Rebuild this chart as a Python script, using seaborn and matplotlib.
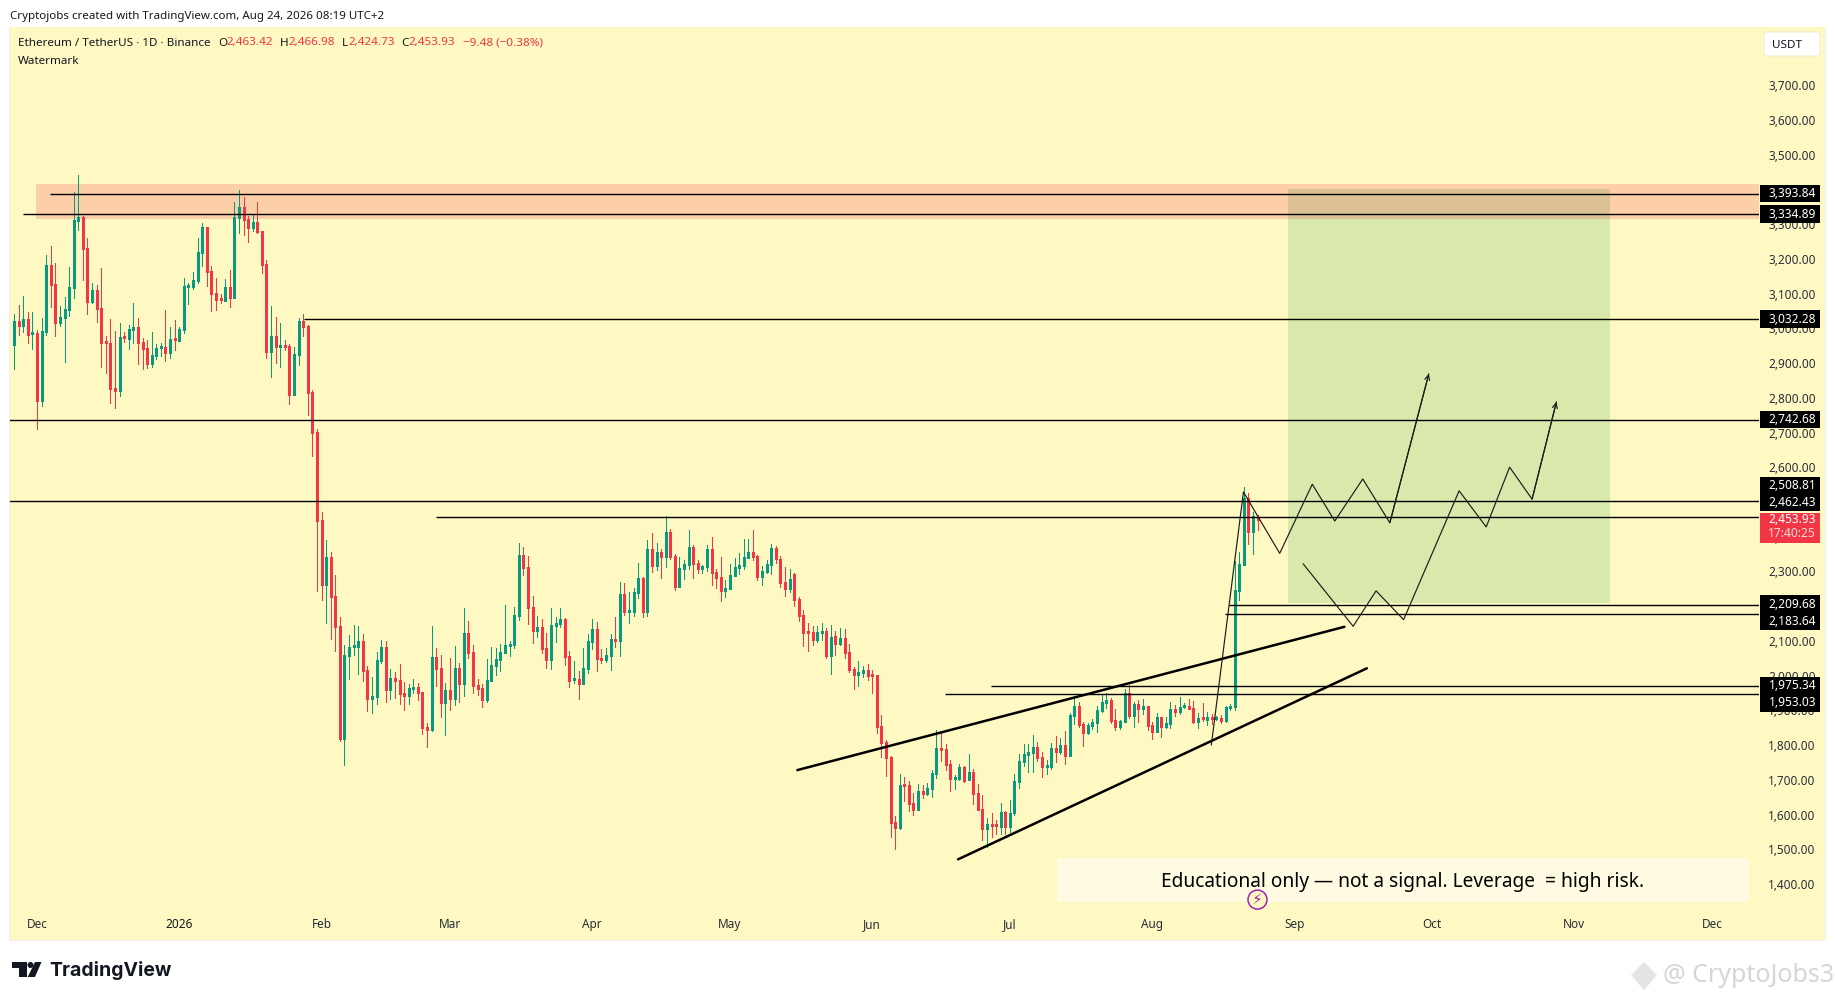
### ETH/USDT daily candles with hand drawn levels and projected paths
import numpy as np
import pandas as pd
import seaborn as sns
import matplotlib.pyplot as plt
from matplotlib.patches import Rectangle, Polygon, Circle, FancyBboxPatch
from matplotlib.transforms import ScaledTranslation

W, H = 1835, 1000
BG = '#FEF8C3'
UP = '#089981'
DOWN = '#F23645'

first_day = -5   # days counted from 1 Dec 2025

open_ = [2958,3027,3012,3032,2989,2992,2796,2995,3188,3133,
    3021,3035,3058,3122,3315,3326,3237,3081,3116,3064,
    2966,2963,2834,2825,2981,2975,3001,3009,2966,2949,
    2903,2926,2949,2952,2935,2975,2969,3001,3125,3125,
    3142,3223,3297,3171,3107,3090,3084,3125,3093,3323,
    3355,3320,3295,3312,3286,3191,2937,2983,2952,2958,
    2955,2814,2929,3027,3012,2822,2707,2454,2267,2347,
    2235,2149,1823,2062,2088,2088,2105,2022,1938,1944,
    2048,2088,1964,1999,1993,1956,1947,1967,1973,1958,
    1858,1849,2059,2028,1927,1964,1938,2028,1981,2128,
    2074,1979,1970,1935,1990,2033,2051,2071,2091,2094,
    2177,2353,2318,2203,2134,2146,2085,2051,2149,2154,
    2169,2062,1993,1996,1982,2025,2103,2140,2056,2051,
    2062,2111,2105,2241,2189,2189,2244,2287,2189,2370,
    2321,2362,2347,2419,2350,2261,2313,2324,2376,2330,
    2313,2319,2370,2304,2290,2249,2255,2293,2316,2321,
    2344,2362,2350,2290,2304,2324,2373,2341,2276,2255,
    2298,2226,2180,2131,2131,2108,2129,2134,2062,2120,
    2097,2114,2074,2025,2008,2013,2022,2008,2008,1861,
    1815,1771,1584,1567,1691,1691,1639,1619,1673,1665,
    1679,1722,1797,1794,1751,1708,1708,1743,1705,1728,
    1668,1622,1564,1578,1576,1570,1613,1570,1609,1700,
    1757,1777,1783,1800,1771,1743,1742,1797,1786,1806,
    1774,1889,1918,1866,1840,1861,1869,1904,1927,1935,
    1878,1858,1872,1956,1889,1924,1909,1918,1863,1843,
    1886,1858,1866,1909,1901,1915,1918,1912,1872,1884,
    1878,1886,1881,1884,1875,1912,1915,2249,2324,2517,
    2419,2463.42]

high = [3047,3073,3099,3053,3053,3001,3035,3217,3243,3194,
    3070,3096,3182,3398,3447,3329,3266,3136,3130,3179,
    2983,3032,2998,3021,2995,3015,3079,3035,2978,2972,
    2995,2960,2963,3058,3009,3030,3009,3151,3136,3168,
    3266,3309,3297,3185,3151,3104,3148,3174,3369,3404,
    3384,3329,3332,3369,3286,3202,3070,3038,3021,2972,
    2960,2952,3035,3047,3015,2828,2716,2477,2396,2362,
    2295,2174,2094,2123,2151,2149,2125,2033,2002,2074,
    2108,2105,2025,2016,2039,1987,1981,1996,1984,1958,
    1869,2149,2085,2065,1984,2056,2091,2042,2200,2163,
    2094,1996,1981,2053,2088,2085,2097,2209,2105,2203,
    2388,2376,2350,2235,2177,2169,2128,2200,2175,2200,
    2172,2077,2048,2019,2085,2126,2169,2160,2082,2085,
    2126,2175,2275,2272,2247,2258,2330,2290,2396,2416,
    2388,2370,2465,2428,2356,2347,2339,2425,2382,2339,
    2324,2382,2405,2313,2347,2281,2327,2344,2359,2399,
    2399,2425,2353,2321,2339,2385,2379,2350,2319,2312,
    2300,2231,2196,2157,2149,2149,2157,2143,2152,2134,
    2143,2140,2097,2031,2048,2034,2039,2022,2008,1892,
    1820,1774,1602,1722,1714,1702,1668,1694,1691,1697,
    1734,1849,1841,1809,1763,1720,1751,1745,1780,1737,
    1694,1662,1596,1610,1590,1639,1616,1648,1724,1780,
    1809,1809,1835,1815,1786,1763,1813,1832,1826,1846,
    1897,1947,1930,1872,1869,1881,1918,1953,1956,1941,
    1909,1878,1967,1979,1930,1935,1938,1918,1872,1898,
    1886,1886,1930,1921,1944,1927,1938,1932,1898,1927,
    1901,1895,1889,1892,1918,1924,2336,2362,2549,2532,
    2477,2466.98]

low = [2888,2986,2995,2963,2946,2716,2782,2986,3067,2983,
    3012,2909,3041,3093,3289,3145,3047,3079,3024,2894,
    2877,2791,2776,2811,2966,2946,2963,2903,2888,2891,
    2894,2917,2926,2912,2920,2943,2969,2992,3076,3119,
    3136,3185,3127,3056,3058,3079,3084,3067,3093,3280,
    3274,3254,3286,3280,3165,2920,2865,2906,2894,2943,
    2788,2814,2900,2983,2756,2638,2249,2223,2157,2111,
    2077,1817,1748,1996,2065,2010,1990,1904,1898,1924,
    2042,1930,1938,1941,1924,1907,1924,1956,1935,1837,
    1800,1846,1976,1886,1835,1907,1921,1930,1947,2056,
    1956,1950,1915,1930,1990,2007,2019,2071,2062,2085,
    2166,2295,2154,2100,2117,2071,2028,2025,2103,2146,
    2036,1973,1984,1938,1982,2013,2082,2019,2042,2045,
    2022,2088,2062,2180,2157,2177,2229,2175,2177,2304,
    2310,2287,2319,2342,2252,2261,2284,2313,2287,2301,
    2301,2307,2267,2258,2221,2232,2255,2293,2298,2313,
    2344,2339,2281,2267,2301,2298,2329,2262,2236,2247,
    2206,2163,2091,2077,2094,2103,2108,2057,2010,2065,
    2094,2057,2016,1967,1976,2002,1993,1956,1841,1771,
    1717,1541,1506,1564,1645,1616,1604,1619,1653,1662,
    1656,1711,1760,1734,1673,1679,1705,1700,1705,1636,
    1619,1532,1512,1541,1550,1550,1550,1555,1604,1681,
    1745,1728,1728,1760,1714,1722,1737,1757,1780,1751,
    1774,1866,1858,1803,1837,1852,1843,1901,1912,1869,
    1849,1852,1872,1884,1858,1872,1895,1849,1823,1843,
    1829,1855,1855,1889,1895,1912,1909,1869,1855,1875,
    1863,1866,1878,1869,1872,1907,1907,2223,2324,2385,
    2356,2424.73]

close = [3027,3012,3032,2986,2992,2796,2998,3188,3130,3021,
    3038,3061,3125,3318,3326,3234,3081,3116,3061,2963,
    2963,2831,2825,2981,2978,3004,3009,2963,2946,2903,
    2929,2949,2952,2935,2975,2972,3004,3127,3127,3145,
    3225,3297,3168,3104,3087,3087,3125,3093,3326,3355,
    3318,3295,3312,3283,3188,2937,2983,2952,2958,2952,
    2814,2932,3027,3009,2819,2704,2451,2267,2347,2232,
    2146,1823,2065,2088,2091,2105,2019,1938,1947,2051,
    2088,1964,1999,1990,1953,1947,1970,1973,1956,1855,
    1849,2059,2025,1927,1964,1938,2028,1981,2128,2071,
    1976,1967,1935,1993,2036,2053,2074,2094,2097,2180,
    2353,2316,2200,2134,2146,2082,2051,2151,2157,2169,
    2059,1990,1996,1982,2028,2105,2140,2054,2051,2065,
    2111,2105,2241,2189,2192,2247,2287,2189,2370,2321,
    2362,2347,2419,2347,2261,2316,2327,2376,2327,2313,
    2321,2370,2301,2287,2249,2258,2295,2319,2324,2347,
    2362,2347,2290,2307,2327,2373,2341,2273,2255,2284,
    2225,2177,2128,2128,2108,2131,2134,2062,2117,2097,
    2114,2071,2022,2008,2016,2022,2005,2005,1858,1812,
    1769,1581,1567,1691,1688,1636,1619,1673,1665,1682,
    1725,1797,1792,1748,1708,1711,1743,1703,1728,1665,
    1619,1564,1578,1573,1573,1613,1570,1610,1702,1760,
    1780,1786,1800,1768,1742,1745,1797,1786,1806,1774,
    1892,1918,1863,1840,1863,1872,1907,1930,1935,1875,
    1858,1875,1956,1889,1924,1909,1918,1861,1843,1886,
    1858,1869,1909,1901,1915,1918,1909,1872,1884,1881,
    1886,1881,1884,1875,1915,1918,2252,2327,2517,2419,
    2465,2453.93]

# horizontal levels and the day each one starts on
level_prices = [3393.84, 3334.89, 3032.28, 2742.68, 2508.81, 2462.43, 2209.68, 2183.64, 1975.34, 1953.03]
level_starts = [2.8, -3.1, 58.2, -6, -6, 86.9, 259.8, 258.8, 207.9, 197.8]
# where the price tags sit once the scale has stacked them
tag_prices = [3393.84, 3334.89, 3032.28, 2742.68, 2553.6, 2504, 2212, 2161, 1977, 1927.4]

zone_days = [-0.2, 375.4]
zone_prices = [3320, 3421]
box_days = [272.6, 342.8]
box_prices = [2215, 3407]

wedge_top_days = [165.7, 284.9]
wedge_top_prices = [1734, 2146.5]
wedge_low_days = [200.7, 289.8]
wedge_low_prices = [1477, 2027]

path_a_days = [255.9, 262.9, 270.8, 277.9, 282.8, 288.9, 294.8, 303.3]
path_a_prices = [1806, 2534.6, 2358, 2557, 2451, 2572, 2446, 2875]
path_b_days = [275.9, 286.8, 291.8, 297.8, 309.9, 315.8, 320.9, 325.8, 331.1]
path_b_prices = [2328, 2148, 2250, 2167, 2538, 2434, 2606, 2514, 2794]

price_ticks = list(range(1400, 3800, 100))
month_days = [0, 31, 62, 90, 121, 151, 182, 212, 243, 274, 304, 335, 365]
month_labels = ['Dec', '2026', 'Feb', 'Mar', 'Apr', 'May', 'Jun', 'Jul', 'Aug', 'Sep', 'Oct', 'Nov', 'Dec']


###~~~~~~~~~~~~~~~~~~~~~~~~~~~~~~~~~~~~~~~~~~~~~~~~~~~~~~~~~~~~~~~~~~~~~~~~~~~~
def fx(px):
    return px / W

def fy(px):
    return 1 - px / H

def px_text(x, y, s, **kw):
    kw.setdefault('va', 'center')
    kw.setdefault('color', '#131722')
    fig.text(fx(x), fy(y), s, **kw)

def px_poly(points, color):
    pts = [(fx(a), fy(b)) for a, b in points]
    fig.add_artist(Polygon(pts, closed=True, fc=color, ec='none', transform=fig.transFigure))


sns.set_theme(style='white', rc={'axes.facecolor': BG, 'figure.facecolor': 'white'})
plt.rcParams['font.family'] = ['Noto Sans', 'DejaVu Sans']

fig = plt.figure(figsize=(W / 100, H / 100), dpi=100)

# chart frame and price scale background, behind the axes
fig.add_artist(Rectangle((fx(9), fy(941)), fx(1817), 914 / H, fc='#EEEEEE', ec='none', zorder=-2, transform=fig.transFigure))
fig.add_artist(Rectangle((fx(10), fy(940)), fx(1815), 913 / H, fc=BG, ec='none', zorder=-1, transform=fig.transFigure))

ax = fig.add_axes([fx(10), fy(940), fx(1749), 913 / H])
ax.set_xlim((10 - 37) / 4.589, (1759 - 37) / 4.589)
ax.set_ylim(1244.8, 3873.3)
sns.despine(ax=ax, left=True, bottom=True, right=True, top=True)

df = pd.DataFrame({'day': np.arange(first_day, first_day + len(close)),
                   'open': open_, 'high': high, 'low': low, 'close': close})
df['color'] = np.where(df['close'] >= df['open'], UP, DOWN)

# zones first so the candles and lines stay on top
ax.add_patch(Rectangle((zone_days[0], zone_prices[0]), zone_days[1] - zone_days[0], zone_prices[1] - zone_prices[0],
                       fc='#FCCFA8', ec='none', zorder=1))
ax.add_patch(Rectangle((box_days[0], box_prices[0]), box_days[1] - box_days[0], box_prices[1] - box_prices[0],
                       fc='#D9E8AB', ec='none', zorder=1.1))
ax.add_patch(Rectangle((box_days[0], zone_prices[0]), box_days[1] - box_days[0], box_prices[1] - zone_prices[0],
                       fc='#DCC196', ec='none', zorder=1.2))

# wicks then bodies, both as snapped vertical lines so they stay centred on each other
wicks = ax.vlines(df['day'], df['low'], df['high'], colors=df['color'], linewidth=0.72, zorder=3,
                  antialiased=False, capstyle='butt')
wicks.set_snap(True)
body_low = df[['open', 'close']].min(axis=1)
body_high = df[['open', 'close']].max(axis=1).clip(lower=body_low + 5)
bodies = ax.vlines(df['day'], body_low, body_high, colors=df['color'], linewidth=2.16, zorder=3.1,
                   antialiased=False, capstyle='butt')
bodies.set_snap(True)

ax.hlines(level_prices, level_starts, ax.get_xlim()[1], colors='black', linewidth=1.0, zorder=4)

# trend lines and projected paths
for xs, ys, lw, c in [(wedge_top_days, wedge_top_prices, 1.8, 'black'),
                      (wedge_low_days, wedge_low_prices, 1.8, 'black'),
                      (path_a_days, path_a_prices, 0.85, '#1c1c1c'),
                      (path_b_days, path_b_prices, 0.85, '#1c1c1c')]:
    sns.lineplot(x=xs, y=ys, sort=False, errorbar=None, color=c, linewidth=lw, ax=ax, zorder=5, legend=False)

for xs, ys in [(path_a_days, path_a_prices), (path_b_days, path_b_prices)]:
    ax.annotate('', xy=(xs[-1], ys[-1]), xytext=(xs[-2], ys[-2]), zorder=5,
                arrowprops=dict(arrowstyle='->', lw=0.85, color='#1c1c1c', shrinkA=0, shrinkB=0, mutation_scale=9))

ax.set_xlabel('')
ax.set_ylabel('')
ax.yaxis.tick_right()
ax.set_yticks(price_ticks)
ax.set_yticklabels([f'{v:,.2f}' for v in price_ticks], fontsize=8.5, color='#2a2e39')
ax.tick_params(axis='y', length=0, pad=6.5)
ax.set_xticks(month_days)
ax.set_xticklabels(month_labels, fontsize=8.5, color='#2a2e39')
ax.tick_params(axis='x', length=0, pad=-15.6)
ax.get_xticklabels()[1].set_color('#131722')
ax.grid(False)

# tick_params resets label transforms, so the nudge has to come after it
nudge = ScaledTranslation(0, 2 / 100, fig.dpi_scale_trans)
for v, lab in zip(price_ticks, ax.get_yticklabels()):
    lab.set_transform(lab.get_transform() + nudge)
    if v % 500 == 0:
        lab.set_fontweight('bold')

# price tags on the scale
tag_x0 = (1760 - 37) / 4.589
tag_w = 60 / 4.589
tag_h = 17.3 * 2.879
tag_mid = tag_x0 + tag_w / 2 + 0.5
for p, lab in zip(tag_prices, level_prices):
    ax.add_patch(Rectangle((tag_x0, p - tag_h / 2), tag_w, tag_h, fc='black', ec='none', clip_on=False, zorder=6))
    ax.text(tag_mid, p, f'{lab:,.2f}', color='white', fontsize=8.6, ha='center', va='center',
            fontweight='bold', zorder=7)
ax.add_patch(Rectangle((tag_x0, 2389), tag_w, 86, fc=DOWN, ec='none', clip_on=False, zorder=6))
ax.text(tag_mid, 2456, f'{close[-1]:,.2f}', color='white', fontsize=8.6, ha='center', va='center', fontweight='bold', zorder=7)
ax.text(tag_mid, 2415, '17:40:25', color='#FFD9DC', fontsize=8.6, ha='center', va='center', zorder=7)

# header, legend line
px_text(10, 17, 'Cryptojobs created with TradingView.com, Aug 24, 2026 08:19 UTC+2', fontsize=8.3)
px_text(18, 43, 'Ethereum / TetherUS · 1D · Binance', fontsize=8.4)
for x, s in [(218, 'O'), (279.4, 'H'), (341.5, 'L'), (401, 'C')]:
    px_text(x, 43, s, fontsize=8.4)
for x, s in [(226, '2,463.42'), (288, '2,466.98'), (348, '2,424.73'), (408, '2,453.93'), (462.5, '−9.48 (−0.38%)')]:
    px_text(x, 43, s, fontsize=8.4, color=DOWN)
px_text(18, 61, 'Watermark', fontsize=8.4)

# currency button
fig.add_artist(FancyBboxPatch((1764, H - 56), 56, 24, boxstyle='round,pad=0,rounding_size=3', fc='white',
                              ec='#F0EDD0', lw=0.8, transform=None))
px_text(1772, 45.5, 'USDT', fontsize=8.4)

# note box and news icon
fig.add_artist(Rectangle((fx(1057), fy(902)), fx(1748.5 - 1057), 44 / H, fc='#FFFBE3', ec='none', zorder=8,
                         transform=fig.transFigure))
px_text(1161, 882, 'Educational only — not a signal. Leverage  = high risk.', fontsize=13.8, color='black', zorder=9)
fig.add_artist(Circle((1257.5, H - 899.6), 9.5, fc=BG, ec='#9C27B0', lw=1.1, zorder=10, transform=None))
px_text(1257.5, 899.6, '⚡', fontsize=11, color='#9C27B0', ha='center', zorder=11, family='DejaVu Sans')

# logo and watermark under the chart
px_poly([(12, 962), (27, 962), (27, 977), (19, 977), (19, 968), (12, 968)], '#131722')
fig.add_artist(Circle((30.5, H - 965), 3, fc='#131722', ec='none', transform=None))
px_poly([(35, 962), (41.5, 962), (35, 977), (27.7, 977)], '#131722')
px_text(49, 970, 'TradingView', fontsize=14, fontweight='bold', color='#131722', family='Inter')
px_text(1663, 976, '@ CryptoJobs3', fontsize=18, color='#D6D6D6', zorder=3)
px_poly([(1644, 962), (1657, 975), (1644, 990), (1631, 975)], '#E4E4E4')

fig.savefig('out.png', dpi=100)
